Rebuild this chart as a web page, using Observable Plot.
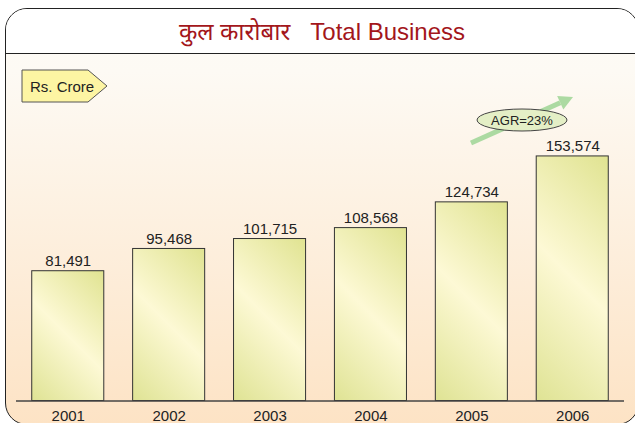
<!DOCTYPE html>
<html><head><meta charset="utf-8">
<script src="https://cdn.jsdelivr.net/npm/d3@7"></script>
<script src="https://cdn.jsdelivr.net/npm/@observablehq/plot@0.6"></script>
<style>
body{margin:0;background:#fff;}
#wrap{position:relative;width:635px;height:423px;overflow:hidden;font-family:"Liberation Sans",Arial,sans-serif;}
#frame{position:absolute;left:5px;top:8px;width:632px;height:415px;border:1.5px solid #222;border-radius:22px;background:linear-gradient(#fdfbf7 0%, #fdfaf4 15%, #fde3c5 100%);overflow:hidden;}
#head{height:43.5px;border-bottom:1.5px solid #222;background:#fff;}
#title{position:absolute;left:0;top:8px;width:644px;height:45px;text-align:center;line-height:46px;font-size:24px;color:#a3161b;white-space:pre;}
#chart{position:absolute;left:0;top:0;}
</style></head>
<body>
<div id="wrap">
  <div id="frame"><div id="head"></div></div>
  <div id="title"><span style="font-family:'Noto Sans','Liberation Sans',sans-serif;">कुल कारोबार</span>   Total Business</div>
  <div id="chart"></div>
</div>
<script>
const years = ["2001", "2002", "2003", "2004", "2005", "2006"];
const values = [81491, 95468, 101715, 108568, 124734, 153574];
const unitLabel = "Rs. Crore";
const growthLabel = "AGR=23%";

const data = years.map((y, i) => ({year: y, value: values[i]}));
const fmt = d3.format(",");

const chart = Plot.plot({
  width: 635, height: 423,
  marginLeft: 16, marginRight: 11, marginTop: 82, marginBottom: 22.5,
  x: {domain: years, paddingInner: 0.286, paddingOuter: 0.156, round: false, label: null},
  y: {domain: [0, 200000], axis: null},
  style: {background: "transparent", fontFamily: "'Liberation Sans', Arial, sans-serif", fontSize: "15px", color: "#222", overflow: "visible"},
  marks: [
    Plot.barY(data, {x: "year", y: "value", fill: "#f2f0bb", stroke: "#333", strokeWidth: 1}),
    Plot.ruleY([0], {stroke: "#444", strokeWidth: 1.5}),
    Plot.text(data, {x: "year", y: "value", text: d => fmt(d.value), lineAnchor: "bottom", dy: -5, fontSize: 15, fill: "#222"}),
    Plot.axisX({tickSize: 0, tickPadding: 9, fontSize: 15, label: null, fill: "#222"})
  ]
});

const svg = d3.select(chart);
const defs = svg.insert("defs", ":first-child");
// one 45° gradient per bar (dark at bottom-left and top-right corners, light through the middle)
svg.selectAll('g[aria-label="bar"] rect').each(function(_, i) {
  const r = d3.select(this);
  const w = +r.attr("width"), h = +r.attr("height");
  const k = (w + h) / (2 * (w * w + h * h));
  const gx = w * k, gy = h * k;
  const g = defs.append("linearGradient").attr("id", "barGrad" + i)
    .attr("x1", 0.5 - gx).attr("y1", 0.5 + gy).attr("x2", 0.5 + gx).attr("y2", 0.5 - gy);
  g.append("stop").attr("offset", "0%").attr("stop-color", "#dfe394");
  g.append("stop").attr("offset", "50%").attr("stop-color", "#fdf9d5");
  g.append("stop").attr("offset", "100%").attr("stop-color", "#e0e391");
  r.attr("fill", `url(#barGrad${i})`);
});

// decorations
const deco = svg.append("g").attr("text-anchor", "start");
deco.append("polygon")
  .attr("points", "22,70 88,70 107,86 88,102 22,102")
  .attr("fill", "#fdf5a3").attr("stroke", "#555").attr("stroke-width", 1);
deco.append("text").attr("x", 30).attr("y", 92).attr("text-anchor", "start")
  .attr("font-size", 15).attr("fill", "#222").text(unitLabel);

// growth arrow
const x0 = 471, y0 = 143, x1 = 573, y1 = 97;
const len = Math.hypot(x1 - x0, y1 - y0), ux = (x1 - x0) / len, uy = (y1 - y0) / len;
const hl = 14, hw = 7.5;
const bx = x1 - ux * hl, by = y1 - uy * hl;
deco.append("line").attr("x1", x0).attr("y1", y0).attr("x2", bx).attr("y2", by)
  .attr("stroke", "#acdaa2").attr("stroke-width", 5);
deco.append("polygon")
  .attr("points", `${x1},${y1} ${bx - uy * hw},${by + ux * hw} ${bx + uy * hw},${by - ux * hw}`)
  .attr("fill", "#acdaa2");
deco.append("ellipse").attr("cx", 522).attr("cy", 120).attr("rx", 45).attr("ry", 11)
  .attr("fill", "#e4efc6").attr("stroke", "#444").attr("stroke-width", 1);
deco.append("text").attr("x", 522).attr("y", 125).attr("text-anchor", "middle")
  .attr("font-size", 13).attr("fill", "#222").text(growthLabel);

document.getElementById("chart").appendChild(chart);
</script>
</body></html>
